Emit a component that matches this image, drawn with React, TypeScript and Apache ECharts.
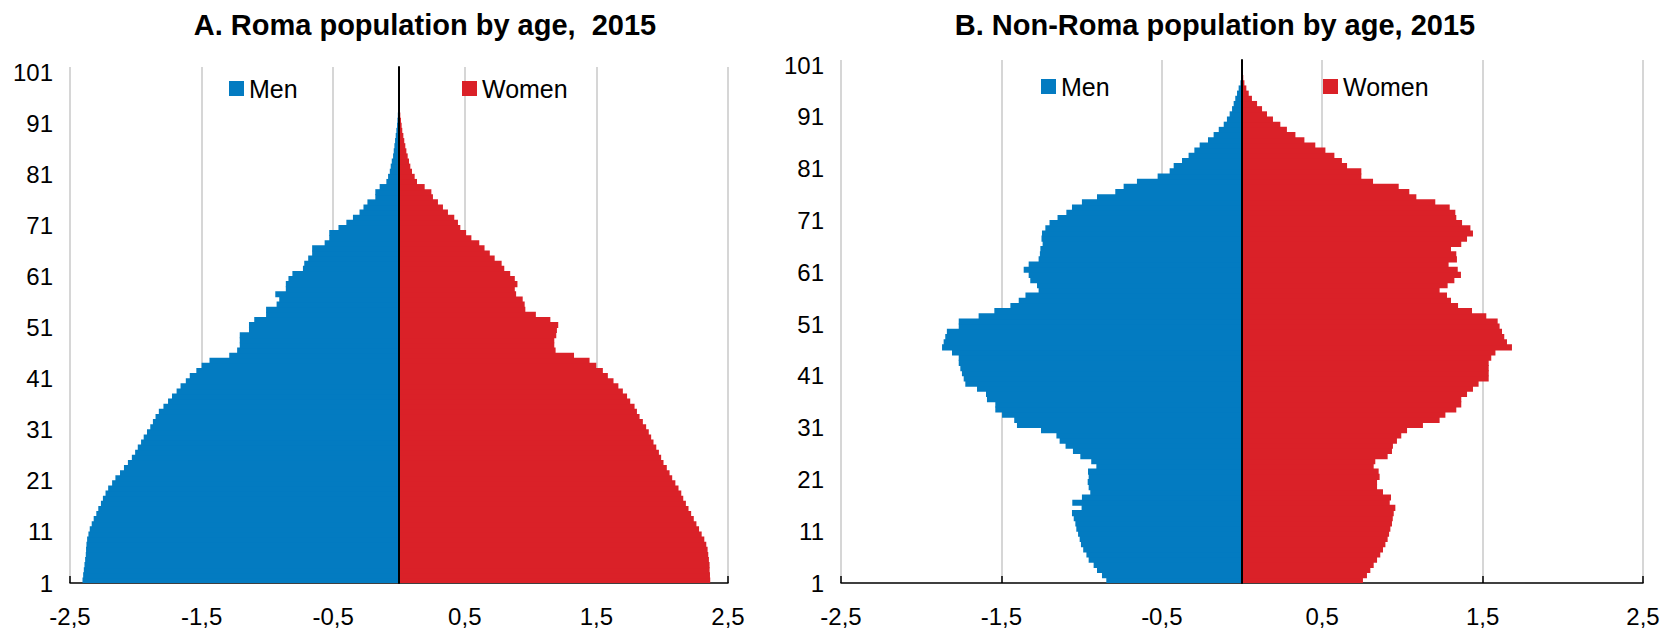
import React, { useEffect, useRef } from "react";
import * as echarts from "echarts";

const ages: string[] = [];
for (let a = 1; a <= 101; a++) ages.push(String(a));

const titleA = "A. Roma population by age,  2015";
const titleB = "B. Non-Roma population by age, 2015";

const menA = [
  -2.405, -2.4, -2.395, -2.39, -2.385, -2.38, -2.378, -2.375, -2.37, -2.36,
  -2.35, -2.335, -2.32, -2.3, -2.285, -2.265, -2.25, -2.23, -2.21, -2.18,
  -2.155, -2.12, -2.09, -2.06, -2.03, -2.005, -1.985, -1.96, -1.94, -1.915,
  -1.89, -1.87, -1.85, -1.825, -1.79, -1.755, -1.725, -1.69, -1.66, -1.62,
  -1.59, -1.54, -1.5, -1.44, -1.29, -1.23, -1.21, -1.21, -1.21, -1.14,
  -1.14, -1.1, -1.01, -1.01, -0.93, -0.91, -0.94, -0.86, -0.86, -0.84,
  -0.81, -0.73, -0.72, -0.69, -0.66, -0.66, -0.565, -0.53, -0.53, -0.46,
  -0.4, -0.35, -0.3, -0.27, -0.24, -0.18, -0.18, -0.147, -0.096, -0.083,
  -0.07, -0.063, -0.055, -0.045, -0.04, -0.035, -0.03, -0.025, -0.02, -0.015,
  -0.012, -0.009, -0.006, -0.004, -0.003, -0.002, -0.002, -0.001, -0.001, -0.001,
  -0.001,
];

const womenA = [
  2.365, 2.363, 2.36, 2.36, 2.355, 2.35, 2.345, 2.335, 2.32, 2.3,
  2.28, 2.26, 2.24, 2.22, 2.2, 2.18, 2.16, 2.145, 2.124, 2.1,
  2.076, 2.056, 2.035, 2.01, 1.992, 1.975, 1.955, 1.934, 1.916, 1.898,
  1.878, 1.853, 1.828, 1.808, 1.79, 1.757, 1.733, 1.701, 1.667, 1.63,
  1.587, 1.549, 1.499, 1.448, 1.33, 1.19, 1.18, 1.18, 1.195, 1.2,
  1.21, 1.15, 1.04, 0.96, 0.955, 0.94, 0.89, 0.88, 0.9, 0.88,
  0.845, 0.8, 0.78, 0.727, 0.69, 0.65, 0.61, 0.55, 0.51, 0.466,
  0.448, 0.42, 0.372, 0.334, 0.296, 0.258, 0.246, 0.195, 0.137, 0.119,
  0.099, 0.086, 0.076, 0.066, 0.056, 0.048, 0.04, 0.033, 0.025, 0.02,
  0.015, 0.01, 0.006, 0.004, 0.003, 0.002, 0.001, 0.001, 0.001, 0.001,
  0.001,
];

const menB = [
  -0.846, -0.873, -0.904, -0.925, -0.956, -0.97, -0.99, -1.004, -1.012, -1.022,
  -1.033, -1.039, -1.049, -1.06, -1.0, -1.058, -0.998, -0.946, -0.956, -0.962,
  -0.956, -0.96, -0.908, -0.94, -1.008, -1.054, -1.1, -1.137, -1.157, -1.253,
  -1.403, -1.42, -1.496, -1.538, -1.538, -1.59, -1.596, -1.652, -1.725, -1.735,
  -1.746, -1.756, -1.766, -1.766, -1.808, -1.87, -1.86, -1.85, -1.84, -1.766,
  -1.766, -1.642, -1.544, -1.444, -1.392, -1.35, -1.268, -1.278, -1.32, -1.33,
  -1.361, -1.33, -1.268, -1.26, -1.257, -1.243, -1.25, -1.247, -1.226, -1.2,
  -1.15, -1.095, -1.06, -0.998, -0.904, -0.79, -0.738, -0.655, -0.526, -0.451,
  -0.426, -0.374, -0.333, -0.297, -0.264, -0.212, -0.177, -0.145, -0.114, -0.094,
  -0.077, -0.062, -0.052, -0.042, -0.031, -0.021, -0.01, -0.006, -0.004, -0.002,
  -0.001,
];

const womenB = [
  0.754, 0.779, 0.8, 0.821, 0.842, 0.862, 0.879, 0.894, 0.908, 0.917,
  0.925, 0.935, 0.94, 0.946, 0.956, 0.921, 0.929, 0.879, 0.842, 0.842,
  0.858, 0.852, 0.821, 0.831, 0.908, 0.935, 0.941, 0.966, 0.993, 1.029,
  1.128, 1.232, 1.268, 1.336, 1.367, 1.367, 1.403, 1.44, 1.475, 1.538,
  1.538, 1.538, 1.538, 1.554, 1.58, 1.683, 1.652, 1.635, 1.621, 1.606,
  1.594, 1.523, 1.434, 1.347, 1.303, 1.278, 1.232, 1.282, 1.324, 1.365,
  1.345, 1.288, 1.34, 1.336, 1.303, 1.367, 1.403, 1.44, 1.424, 1.372,
  1.336, 1.33, 1.295, 1.205, 1.087, 1.043, 0.977, 0.817, 0.744, 0.744,
  0.655, 0.623, 0.576, 0.52, 0.457, 0.389, 0.333, 0.28, 0.239, 0.193,
  0.156, 0.125, 0.094, 0.062, 0.042, 0.027, 0.015, 0.008, 0.004, 0.002,
  0.001,
];

const BLUE = "#037BC1";
const RED = "#DA2128";
const FONT = '"Liberation Sans", Arial, Helvetica, sans-serif';

function fmtX(v: number) {
  return v.toFixed(1).replace(".", ",");
}

function xAxis(gridIndex: number) {
  return {
    type: "value",
    gridIndex,
    min: -2.5,
    max: 2.5,
    interval: 1,
    axisLine: { show: true, onZero: false, lineStyle: { color: "#000", width: 1.5 } },
    axisTick: { show: true, inside: true, length: 7, lineStyle: { color: "#000", width: 1.5 } },
    splitLine: { show: true, lineStyle: { color: "#C8C8C8", width: 1.5 } },
    axisLabel: {
      formatter: (v: number) => fmtX(v),
      fontSize: 24,
      color: "#000",
      fontFamily: FONT,
      margin: 21,
    },
  };
}

function yCat(gridIndex: number) {
  return {
    type: "category",
    gridIndex,
    data: ages,
    z: 10,
    axisLine: { show: true, onZero: true, lineStyle: { color: "#000", width: 2 } },
    axisTick: { show: false },
    axisLabel: { show: false },
    splitLine: { show: false },
  };
}

function yVal(gridIndex: number) {
  return {
    type: "value",
    gridIndex,
    position: "left",
    min: 0,
    max: 101,
    interval: 10,
    axisLine: { show: false, onZero: false },
    axisTick: { show: false },
    splitLine: { show: false },
    axisLabel: {
      formatter: (v: number) => (v <= 100 && v % 10 === 0 ? String(v + 1) : ""),
      fontSize: 24,
      color: "#000",
      fontFamily: FONT,
      margin: 17,
    },
  };
}

function barSeries(name: string, data: number[], color: string, axis: number) {
  return {
    type: "bar",
    name,
    data,
    xAxisIndex: axis,
    yAxisIndex: axis * 2,
    barGap: "-100%",
    barWidth: "118%",
    itemStyle: { color },
    emphasis: { disabled: true },
  };
}

function legend(name: string, left: number, top: number) {
  return {
    data: [name],
    left,
    top,
    padding: 0,
    icon: "rect",
    itemWidth: 15,
    itemHeight: 15,
    itemGap: 5,
    selectedMode: false,
    itemStyle: { borderWidth: 0 },
    textStyle: { fontSize: 25, color: "#000", fontFamily: FONT, padding: [0, 0, 0, 0] },
  };
}

export default function App() {
  const ref = useRef<HTMLDivElement>(null);
  useEffect(() => {
    document.body.style.margin = "0";
    if (!ref.current) return;
    const chart = echarts.init(ref.current, undefined, { renderer: "svg" });
    chart.setOption({
      animation: false,
      backgroundColor: "#fff",
      title: [
        {
          text: titleA,
          left: 420,
          top: 5,
          textAlign: "center",
          textStyle: { fontSize: 29, fontWeight: "bold", color: "#000", fontFamily: FONT },
        },
        {
          text: titleB,
          left: 1210,
          top: 5,
          textAlign: "center",
          textStyle: { fontSize: 29, fontWeight: "bold", color: "#000", fontFamily: FONT },
        },
      ],
      legend: [
        legend("Men", 229, 76),
        legend("Women", 462, 76),
        legend("Men", 1041, 74),
        legend("Women", 1323, 74),
      ],
      grid: [
        { left: 70, right: 949, top: 67, bottom: 46, containLabel: false },
        { left: 841, right: 34, top: 60, bottom: 46, containLabel: false },
      ],
      xAxis: [xAxis(0), xAxis(1)],
      yAxis: [yCat(0), yVal(0), yCat(1), yVal(1)],
      series: [
        barSeries("Men", menA, BLUE, 0),
        barSeries("Women", womenA, RED, 0),
        barSeries("Men", menB, BLUE, 1),
        barSeries("Women", womenB, RED, 1),
      ],
    });
    return () => chart.dispose();
  }, []);
  return <div ref={ref} style={{ width: 1677, height: 629 }} />;
}
